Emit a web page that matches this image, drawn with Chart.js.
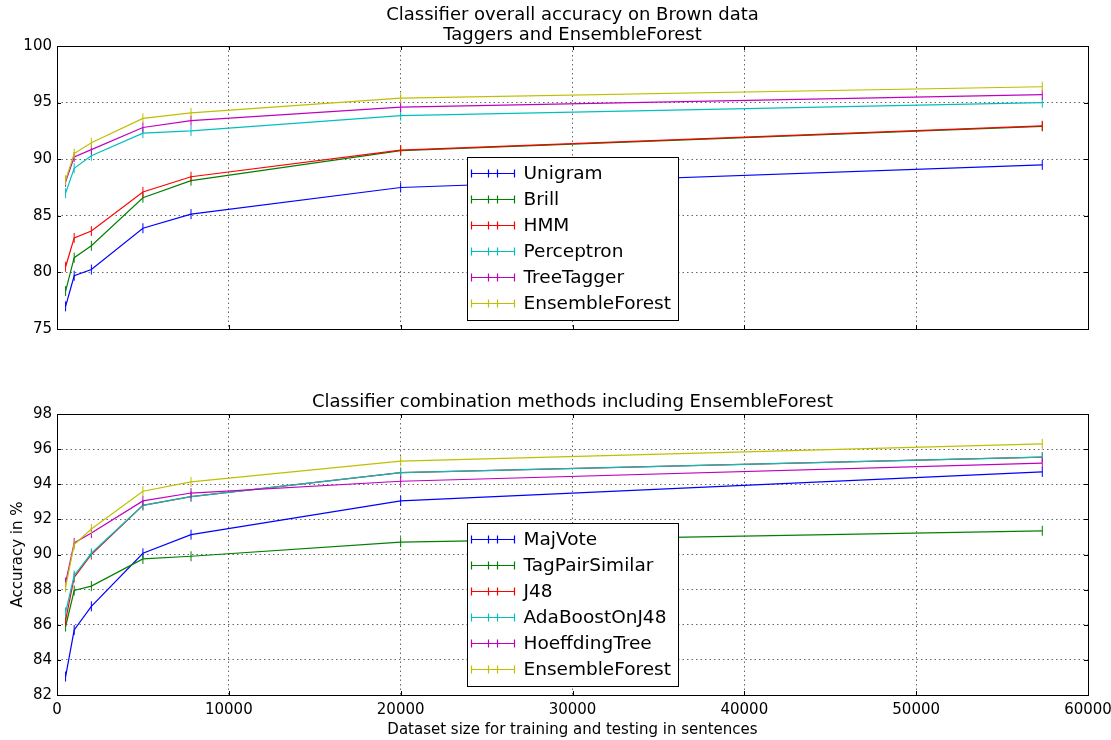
<!DOCTYPE html>
<html>
<head>
<meta charset="utf-8">
<title>Classifier accuracy on Brown data</title>
<script src="https://cdn.jsdelivr.net/npm/chart.js@4.4.0/dist/chart.umd.min.js"></script>
<style>
  body { margin: 0; background: #fff; }
  #wrap { position: relative; width: 1111px; height: 740px; }
  .box { position: absolute; left: 0; width: 1111px; height: 370px; }
</style>
</head>
<body>
<div id="wrap">
  <div class="box" style="top:0"><canvas id="topChart"></canvas></div>
  <div class="box" style="top:370px"><canvas id="bottomChart"></canvas></div>
</div>
<script>
// x: dataset size in sentences
const sizes = [500, 1000, 2000, 5000, 7800, 20000, 57340];

// top plot: taggers
const taggerNames = ['Unigram', 'Brill', 'HMM', 'Perceptron', 'TreeTagger', 'EnsembleForest'];
const unigram = [77.0, 79.7, 80.25, 83.9, 85.15, 87.5, 89.5];
const brill = [78.35, 81.3, 82.35, 86.6, 88.1, 90.75, 92.9];
const hmm = [80.5, 83.05, 83.65, 87.1, 88.45, 90.8, 92.95];
const perceptron = [87.0, 89.2, 90.3, 92.3, 92.5, 93.85, 95.0];
const treeTagger = [88.0, 90.2, 90.85, 92.8, 93.4, 94.6, 95.7];
const ensembleTop = [88.15, 90.5, 91.45, 93.6, 94.1, 95.4, 96.4];

// bottom plot: combination methods
const comboNames = ['MajVote', 'TagPairSimilar', 'J48', 'AdaBoostOnJ48', 'HoeffdingTree', 'EnsembleForest'];
const majVote = [83.05, 85.7, 87.05, 90.07, 91.13, 93.05, 94.7];
const tagPairSimilar = [85.9, 87.95, 88.2, 89.75, 89.9, 90.7, 91.35];
const j48 = [86.25, 88.7, 90.0, 92.8, 93.3, 94.66, 95.55];
const adaBoostOnJ48 = [86.7, 88.8, 90.07, 92.8, 93.3, 94.66, 95.55];
const hoeffdingTree = [88.4, 90.66, 91.22, 93.05, 93.5, 94.17, 95.2];
const ensembleBottom = [88.14, 90.56, 91.45, 93.6, 94.13, 95.32, 96.3];

// matplotlib classic colours b g r c m y
const colors = ['#0000ff', '#008000', '#ff0000', '#00bfbf', '#bf00bf', '#bfbf00'];
const FONT = '"DejaVu Sans", sans-serif';
Chart.defaults.font.family = FONT;
Chart.defaults.color = '#000';

// frame, inner ticks, titles and the boxed legend, matplotlib style
const mplFrame = {
  id: 'mplFrame',
  afterDraw(chart, args, o) {
    const ctx = chart.ctx;
    const a = chart.chartArea;
    const sx = chart.scales.x, sy = chart.scales.y;
    ctx.save();
    ctx.strokeStyle = '#000';
    ctx.lineWidth = 1;
    ctx.beginPath();
    sx.ticks.forEach(t => {
      const px = Math.round(sx.getPixelForValue(t.value)) + 0.5;
      ctx.moveTo(px, a.top); ctx.lineTo(px, a.top + 4);
      ctx.moveTo(px, a.bottom); ctx.lineTo(px, a.bottom - 4);
    });
    sy.ticks.forEach(t => {
      const py = Math.round(sy.getPixelForValue(t.value)) + 0.5;
      ctx.moveTo(a.left, py); ctx.lineTo(a.left + 4, py);
      ctx.moveTo(a.right, py); ctx.lineTo(a.right - 4, py);
    });
    ctx.stroke();
    ctx.strokeRect(Math.round(a.left) + 0.5, Math.round(a.top) + 0.5,
      Math.round(a.right - a.left), Math.round(a.bottom - a.top));

    // titles
    ctx.fillStyle = '#000';
    ctx.textAlign = 'center';
    ctx.textBaseline = 'middle';
    ctx.font = '18px ' + FONT;
    const cx = (a.left + a.right) / 2;
    o.title.forEach((line, i) => ctx.fillText(line, cx, o.titleY + i * 20));
    ctx.font = '15px ' + FONT;
    if (o.xLabel) ctx.fillText(o.xLabel, cx, o.xLabelY);
    if (o.yLabel) {
      ctx.save();
      ctx.translate(18, (a.top + a.bottom) / 2);
      ctx.rotate(-Math.PI / 2);
      ctx.fillText(o.yLabel, 0, 0);
      ctx.restore();
    }

    // legend, lower center
    const ds = chart.data.datasets;
    const w = 211, h = 163;
    const lx = Math.round(cx - w / 2) + 0.5;
    const ly = Math.round(a.bottom - 9 - h) + 0.5;
    ctx.fillStyle = '#fff';
    ctx.fillRect(lx, ly, w, h);
    ctx.strokeStyle = '#000';
    ctx.strokeRect(lx, ly, w, h);
    ctx.font = '18.5px ' + FONT;
    ctx.textAlign = 'left';
    ds.forEach((d, i) => {
      const y = Math.round(ly + 15.7 + i * 26) + 0.5;
      ctx.strokeStyle = d.borderColor;
      ctx.lineWidth = 1.2;
      ctx.beginPath();
      ctx.moveTo(lx + 4, y); ctx.lineTo(lx + 47, y);
      [4, 21, 30, 47].forEach(dx => {
        ctx.moveTo(lx + dx, y - 4); ctx.lineTo(lx + dx, y + 4);
      });
      ctx.stroke();
      ctx.fillStyle = '#000';
      ctx.fillText(d.label, lx + 56, y + 1);
    });
    ctx.restore();
  }
};

function buildDatasets(names, series) {
  return names.map((name, i) => ({
    label: name,
    data: sizes.map((x, j) => ({ x: x, y: series[i][j] })),
    borderColor: colors[i],
    backgroundColor: colors[i],
    borderWidth: 1.2,
    pointStyle: 'line',
    rotation: 90,
    pointRadius: 5,
    pointBorderWidth: 1,
    pointBorderColor: colors[i],
    tension: 0,
    fill: false,
    order: names.length - i
  }));
}

function makeChart(id, names, series, yMin, yMax, yStep, showX, padding, plot) {
  return new Chart(document.getElementById(id), {
    type: 'line',
    data: { datasets: buildDatasets(names, series) },
    options: {
      responsive: true,
      maintainAspectRatio: false,
      animation: false,
      layout: { padding: padding },
      plugins: {
        legend: { display: false },
        title: { display: false },
        tooltip: { enabled: false },
        mplFrame: plot
      },
      scales: {
        x: {
          type: 'linear',
          min: 0,
          max: 60000,
          afterFit: s => {
            s.height = showX ? 45 : 0;
            s.paddingLeft = 0;
            s.paddingRight = 0;
          },
          ticks: { stepSize: 10000, display: showX, padding: 6, maxRotation: 0,
            font: { size: 15 }, callback: v => String(v) },
          grid: { color: 'rgba(0,0,0,0.75)', lineWidth: 0.8, drawTicks: false },
          border: { display: false, dash: [1.5, 3] }
        },
        y: {
          min: yMin,
          max: yMax,
          afterFit: s => { s.width = 57; },
          ticks: { stepSize: yStep, padding: 5, font: { size: 15 } },
          grid: { color: 'rgba(0,0,0,0.75)', lineWidth: 0.8, drawTicks: false },
          border: { display: false, dash: [1.5, 3] }
        }
      }
    },
    plugins: [mplFrame]
  });
}

makeChart('topChart', taggerNames,
  [unigram, brill, hmm, perceptron, treeTagger, ensembleTop],
  75, 100, 5, false,
  { left: 0, top: 46, right: 23, bottom: 41 },
  { title: ['Classifier overall accuracy on Brown data', 'Taggers and EnsembleForest'], titleY: 15 });

makeChart('bottomChart', comboNames,
  [majVote, tagPairSimilar, j48, adaBoostOnJ48, hoeffdingTree, ensembleBottom],
  82, 98, 2, true,
  { left: 0, top: 44, right: 23, bottom: 0 },
  { title: ['Classifier combination methods including EnsembleForest'], titleY: 32,
    xLabel: 'Dataset size for training and testing in sentences', xLabelY: 360,
    yLabel: 'Accuracy in %' });
</script>
</body>
</html>
